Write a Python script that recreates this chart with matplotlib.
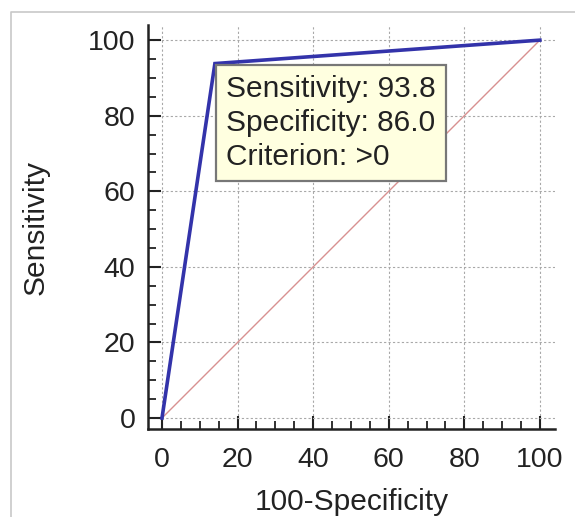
import matplotlib
matplotlib.use("Agg")
import matplotlib.pyplot as plt
from matplotlib.ticker import MultipleLocator
from matplotlib.lines import Line2D

plt.rcParams['font.family'] = ['Liberation Sans', 'DejaVu Sans']

# Data
roc_x = [0, 14.0, 100]
roc_y = [0, 93.8, 100]
diag_x = [0, 100]
diag_y = [0, 100]
ticks = [0, 20, 40, 60, 80, 100]
box_lines = ["Sensitivity: 93.8", "Specificity: 86.0", "Criterion: >0"]

fig = plt.figure(figsize=(5.75, 5.17), dpi=100)
ax = fig.add_axes([0.2574, 0.1702, 0.9652 - 0.2574, 0.9516 - 0.1702])

# figure frame (light grey border)
fig.add_artist(Line2D([0.019, 0.019, 1.0], [0.0, 0.977, 0.977],
                      transform=fig.transFigure, color='#c8c8c8', lw=1.2))

ax.plot(diag_x, diag_y, color='#d89090', lw=1.0, zorder=2)
ax.plot(roc_x, roc_y, color='#3333aa', lw=2.6, zorder=3, solid_joinstyle='miter')

ax.set_xlim(-3.7, 104)
ax.set_ylim(-2.9, 104)
ax.set_xticks(ticks)
ax.set_yticks(ticks)
ax.xaxis.set_minor_locator(MultipleLocator(5))
ax.yaxis.set_minor_locator(MultipleLocator(5))

for s in ['top', 'right']:
    ax.spines[s].set_visible(False)
for s in ['left', 'bottom']:
    ax.spines[s].set_linewidth(1.8)
    ax.spines[s].set_color('#222222')

ax.tick_params(which='major', direction='in', length=9.5, width=1.5,
               labelsize=20.5, colors='#222222')
ax.tick_params(axis='y', which='major', pad=9)
ax.tick_params(axis='x', which='major', pad=13)
ax.tick_params(which='minor', direction='in', length=5.5, width=1.3,
               colors='#222222')

ax.grid(True, which='major', color='#a8a8a8', linestyle=(0, (2, 2)), lw=0.8)
ax.set_axisbelow(True)

ax.set_xlabel("100-Specificity", fontsize=21.5, color='#222222', labelpad=11)
ax.set_ylabel("Sensitivity", fontsize=21.5, color='#222222', labelpad=28)

p = 0.34
fs = 21.5
padpx = p * fs * 100 / 72
ax.annotate("\n".join(box_lines), xy=(roc_x[1], roc_y[1]),
            xytext=(padpx + 1, -padpx - 1), textcoords='offset pixels',
            ha='left', va='top', fontsize=fs, color='#222222',
            linespacing=1.28, zorder=5,
            bbox=dict(boxstyle=f'square,pad={p}', fc='#ffffe0', ec='#777777', lw=1.6))

fig.savefig("out.png", dpi=100)
